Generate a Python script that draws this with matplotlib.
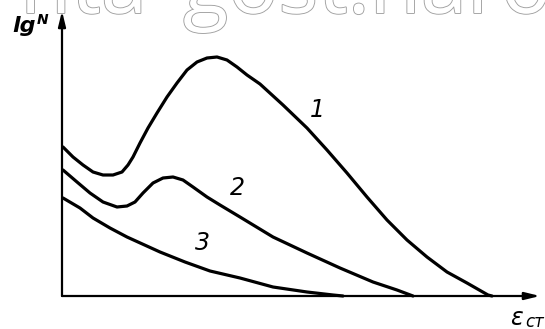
#!/usr/bin/env python3
"""lgN versus eps_st: three curves sketched as in the scanned figure."""

import matplotlib
matplotlib.use("Agg")
import matplotlib.pyplot as plt
import matplotlib.patheffects as pe

# curve 1 (strong maximum)
x1 = [1, 11, 21, 31, 41, 51, 60, 66, 71, 78, 86, 95, 105, 115, 125, 135,
      145, 155, 165, 175, 185, 198, 221, 245, 265, 285, 305, 325, 345, 365,
      385, 405, 426, 430]
y1 = [149, 139, 131, 124, 121, 121, 124, 131, 139, 153, 168, 183, 199, 213,
      226, 234, 238, 239, 236, 229, 221, 212, 191, 168, 146, 123, 99, 76, 56,
      39, 24, 13, 1, 0]

# curve 2 (weak maximum)
x2 = [1, 15, 28, 41, 55, 65, 73, 81, 91, 101, 111, 121, 131, 145, 158, 178,
      211, 245, 278, 311, 335, 351]
y2 = [126, 114, 103, 94, 89, 90, 94, 103, 113, 118, 119, 116, 109, 99, 91,
      79, 59, 43, 28, 14, 6, 0]

# curve 3 (monotonic)
x3 = [1, 18, 31, 48, 65, 98, 123, 148, 178, 211, 245, 271, 281]
y3 = [98, 88, 78, 68, 59, 44, 34, 25, 18, 9, 4, 1, 0]

curve_labels = ["1", "2", "3"]
label_x = [255, 175, 140]
label_y = [186, 108, 53]


def plot(ax: plt.Axes) -> None:
    """Draw the axes arrows, the curves and their labels."""
    ax.set_xlim(-62, 483)
    ax.set_ylim(-33, 296)
    ax.axis("off")

    # watermark of the scan
    halo = [pe.withStroke(linewidth=1.3, foreground="#a0a0a0")]
    ax.text(121, 283, "gost.naro", fontsize=60, family="Open Sans",
            color="white", ha="left", va="baseline", path_effects=halo,
            zorder=0)
    ax.text(85, 283, "nta", fontsize=60, family="Open Sans",
            color="white", ha="right", va="baseline", path_effects=halo,
            zorder=0)

    # axes as arrows
    arrow = dict(arrowstyle="-|>,head_length=0.9,head_width=0.22",
                 color="black", lw=1.6, shrinkA=0, shrinkB=0)
    ax.annotate("", xy=(0, 285), xytext=(0, 0), arrowprops=arrow)
    ax.annotate("", xy=(478, 0), xytext=(0, 0), arrowprops=arrow)

    for xs, ys in [(x1, y1), (x2, y2), (x3, y3)]:
        ax.plot(xs, ys, color="black", lw=2.3, solid_capstyle="round",
                solid_joinstyle="round")

    for t, lx, ly in zip(curve_labels, label_x, label_y):
        ax.text(lx, ly, t, fontsize=17, style="italic", ha="center",
                va="center")

    # axis titles
    ax.text(-38, 270, "lg", fontsize=16, style="italic", weight="bold",
            ha="center", va="center")
    ax.text(-19, 276, "N", fontsize=10, style="italic", weight="bold",
            ha="center", va="center")
    ax.text(454, -22, "ε", fontsize=17, style="italic", ha="center",
            va="center")
    ax.text(473, -26, "ст", fontsize=12, style="italic", ha="center",
            va="center")


def main() -> None:
    fig = plt.figure(figsize=(5.45, 3.29), dpi=100)
    ax = fig.add_axes([0, 0, 1, 1])
    plot(ax)
    fig.savefig("out.png", dpi=100, facecolor="white")


if __name__ == "__main__":
    main()
